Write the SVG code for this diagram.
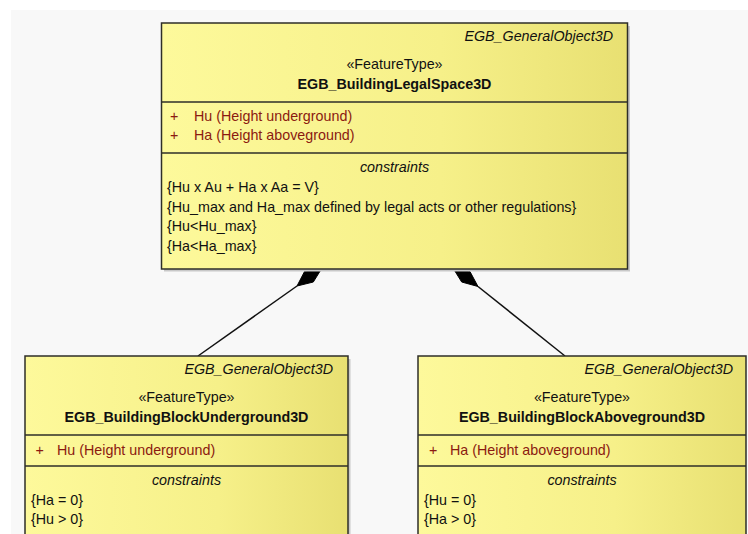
<svg xmlns="http://www.w3.org/2000/svg" width="748" height="534" viewBox="0 0 748 534">
<defs>
<linearGradient id="yel" x1="0" y1="0" x2="1" y2="0">
<stop offset="0" stop-color="#fdf99b"/>
<stop offset="0.6" stop-color="#f6f089"/>
<stop offset="1" stop-color="#e8e072"/>
</linearGradient>
<style>
text{font-family:"Liberation Sans",Arial,sans-serif;font-size:14.3px;fill:#111}
.it{font-style:italic}
.b{font-weight:bold}
.m{text-anchor:middle}
.e{text-anchor:end}
.a{fill:#8b1a10}
.box{fill:url(#yel);stroke:#2e2e28;stroke-width:1.5}
.sh{fill:#c8c8c8}
.sep{stroke:#2e2e28;stroke-width:1.3}
.con{stroke:#111;stroke-width:1.5;fill:none}
.dia{fill:#000;stroke:#000;stroke-width:1}
</style>
</defs>
<rect x="0" y="0" width="748" height="534" fill="#ffffff"/>
<rect x="11" y="10" width="737" height="524" fill="#f8f8f8"/>
<g id="connectors">
<line class="con" x1="198" y1="356" x2="297" y2="286"/>
<polygon class="dia" points="297,286 313.3,282 322,268 304.6,271.4"/>
<line class="con" x1="565" y1="356" x2="478" y2="286.5"/>
<polygon class="dia" points="478,286.5 461.7,282 453,268 470,271.6"/>
</g>
<g id="EGB_BuildingLegalSpace3D">
<rect class="sh" x="164" y="26" width="466" height="245.5"/>
<rect class="box" x="161.5" y="23" width="466" height="246"/>
<line class="sep" x1="161.5" y1="102" x2="627.5" y2="102"/>
<line class="sep" x1="161.5" y1="153" x2="627.5" y2="153"/>
<text class="it e" x="613" y="41">EGB_GeneralObject3D</text>
<text class="m" x="394.5" y="69">«FeatureType»</text>
<text class="b m" x="394.5" y="88.5">EGB_BuildingLegalSpace3D</text>
<text class="a" x="170" y="121">+</text>
<text class="a" x="194" y="121">Hu (Height underground)</text>
<text class="a" x="170" y="140">+</text>
<text class="a" x="194" y="140">Ha (Height aboveground)</text>
<text class="it m" x="394.5" y="172">constraints</text>
<text x="167" y="192">{Hu x Au + Ha x Aa = V}</text>
<text x="167" y="211.5">{Hu_max and Ha_max defined by legal acts or other regulations}</text>
<text x="167" y="231">{Hu&lt;Hu_max}</text>
<text x="167" y="250.5">{Ha&lt;Ha_max}</text>
</g>
<g id="EGB_BuildingBlockUnderground3D">
<rect class="sh" x="27.5" y="359" width="323" height="190"/>
<rect class="box" x="25" y="356" width="323" height="190"/>
<line class="sep" x1="25" y1="435" x2="348" y2="435"/>
<line class="sep" x1="25" y1="466" x2="348" y2="466"/>
<text class="it e" x="333" y="374">EGB_GeneralObject3D</text>
<text class="m" x="186.5" y="402">«FeatureType»</text>
<text class="b m" x="186.5" y="421.5">EGB_BuildingBlockUnderground3D</text>
<text class="a" x="35.5" y="455">+</text>
<text class="a" x="57" y="455">Hu (Height underground)</text>
<text class="it m" x="186.5" y="485">constraints</text>
<text x="31" y="504.5">{Ha = 0}</text>
<text x="31" y="524">{Hu &gt; 0}</text>
</g>
<g id="EGB_BuildingBlockAboveground3D">
<rect class="box" x="418" y="356" width="328" height="190"/>
<line class="sep" x1="418" y1="435" x2="746" y2="435"/>
<line class="sep" x1="418" y1="466" x2="746" y2="466"/>
<text class="it e" x="733" y="374">EGB_GeneralObject3D</text>
<text class="m" x="582" y="402">«FeatureType»</text>
<text class="b m" x="582" y="421.5">EGB_BuildingBlockAboveground3D</text>
<text class="a" x="429" y="455">+</text>
<text class="a" x="450" y="455">Ha (Height aboveground)</text>
<text class="it m" x="582" y="485">constraints</text>
<text x="424" y="504.5">{Hu = 0}</text>
<text x="424" y="524">{Ha &gt; 0}</text>
</g>
</svg>
